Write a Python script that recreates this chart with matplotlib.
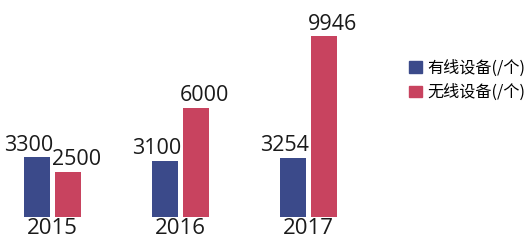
import numpy as np
import matplotlib
matplotlib.use("Agg")
import matplotlib.pyplot as plt
from matplotlib.patches import Patch

plt.rcParams['font.family'] = ['Open Sans', 'Noto Sans CJK SC', 'DejaVu Sans']

years = ["2015", "2016", "2017"]
wired = [3300, 3100, 3254]
wireless = [2500, 6000, 9946]
series_names = ["有线设备(/个)", "无线设备(/个)"]

blue = "#3b4a8a"
red = "#c8435f"

fig = plt.figure(figsize=(5.3, 2.42), dpi=100)
ax = fig.add_axes([0, 25 / 242, 400 / 530, 217 / 242])

x = np.arange(len(years))
w = 0.21
off = 0.121
b1 = ax.bar(x - off, wired, w, color=blue)
b2 = ax.bar(x + off, wireless, w, color=red)

for rect, v in zip(b1, wired):
    ax.annotate(str(v), (rect.get_x() + rect.get_width() / 2, rect.get_height()),
                xytext=(-6, 1), textcoords="offset points",
                ha="center", va="bottom", fontsize=15.5, color="#1a1a1a")
for rect, v in zip(b2, wireless):
    ax.annotate(str(v), (rect.get_x() + rect.get_width() / 2, rect.get_height()),
                xytext=(6, 1), textcoords="offset points",
                ha="center", va="bottom", fontsize=15.5, color="#1a1a1a")

ax.set_xlim(-52.5 / 128, (400 - 52.5) / 128)
ax.set_ylim(0, 217 / 0.0182)
ax.set_xticks(x)
ax.set_xticklabels(years, fontsize=16, color="#1a1a1a")
ax.tick_params(axis="x", length=0, pad=1)
ax.set_yticks([])
for s in ax.spines.values():
    s.set_visible(False)

handles = [Patch(color=blue), Patch(color=red)]
fig.legend(handles, series_names, loc="upper left",
           bbox_to_anchor=(403 / 530, 1 - 53 / 242),
           frameon=False, handlelength=0.75, handleheight=0.75,
           handletextpad=0.35, labelspacing=0.45, borderaxespad=0,
           prop={'family': ['Noto Sans CJK SC', 'DejaVu Sans'], 'size': 11.6})

fig.savefig("out.png", dpi=100)
